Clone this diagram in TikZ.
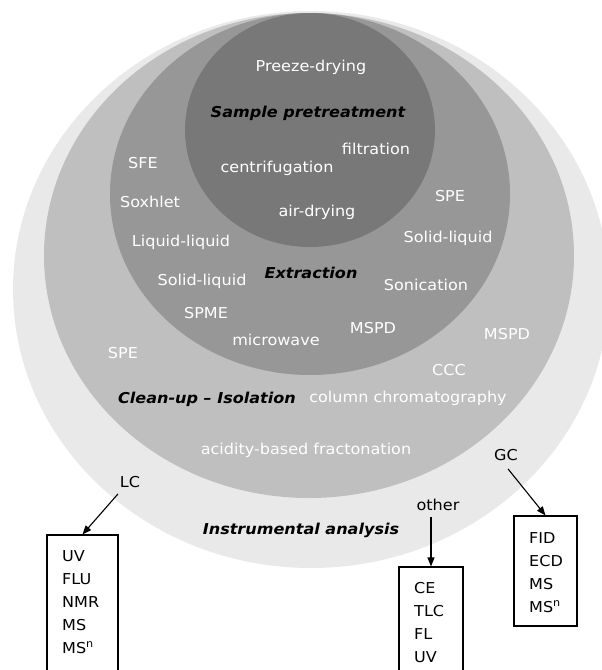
\documentclass[tikz,border=0pt]{standalone}
\usepackage{fontspec}
\setmainfont{DejaVu Sans}[FakeStretch=1.07]
\usetikzlibrary{arrows.meta,fit}
\definecolor{ringA}{HTML}{E9E9E9}
\definecolor{ringB}{HTML}{BFBFBF}
\definecolor{ringC}{HTML}{979797}
\definecolor{ringD}{HTML}{787878}
\begin{document}
\begin{tikzpicture}[x=1pt,y=-1pt,
  lbl/.style={text=white,font=\fontsize{15}{17}\selectfont,inner sep=0pt},
  ttl/.style={text=black,font=\fontsize{15}{17}\selectfont\bfseries\itshape,inner sep=0pt},
  blk/.style={text=black,font=\fontsize{15}{17}\selectfont,inner sep=0pt},
  listtxt/.style={text=black,font=\fontsize{15}{23}\selectfont,align=left,inner sep=0pt,anchor=north west},
  listbox/.style={draw=black,line width=1.1pt,inner sep=0pt},
  arr/.style={-{Triangle[length=9pt,width=7pt]},line width=1.1pt}]
\useasboundingbox (0,0) rectangle (602,670);
\begin{scope}
\clip (0,0) rectangle (602,670);
\fill[ringA] (311,289.5) ellipse [x radius=298, y radius=278.5];
\fill[ringB] (309,255.5) ellipse [x radius=265, y radius=242.5];
\fill[ringC] (310,194) ellipse [x radius=200, y radius=181];
\fill[ringD] (310,130) ellipse [x radius=125, y radius=117];
\end{scope}
% inner
\node[lbl] (preeze) at (311,67) {Preeze-drying};
\node[ttl] (sample) at (308,113) {Sample pretreatment};
\node[lbl] (filt) at (376,149) {filtration};
\node[lbl] (centr) at (277,168) {centrifugation};
\node[lbl] (air) at (317,212) {air-drying};
% extraction ring
\node[lbl] (sfe) at (143,163) {SFE};
\node[lbl] (soxh) at (150,202) {Soxhlet};
\node[lbl] (spe1) at (450,196) {SPE};
\node[lbl] (liq) at (181,242) {Liquid-liquid};
\node[lbl] (sol1) at (448,238) {Solid-liquid};
\node[ttl] (extr) at (311,273) {Extraction};
\node[lbl] (sol2) at (202,281) {Solid-liquid};
\node[lbl] (soni) at (426,285) {Sonication};
\node[lbl] (spme) at (206,313) {SPME};
\node[lbl] (mspd1) at (373,328) {MSPD};
\node[lbl] (micro) at (276,340) {microwave};
% clean-up ring
\node[lbl] (mspd2) at (507,334) {MSPD};
\node[lbl] (spe2) at (123,353) {SPE};
\node[lbl] (ccc) at (449,370) {CCC};
\node[ttl] (clean) at (207,399) {Clean-up -- Isolation};
\node[lbl] (colch) at (408,398) {column chromatography};
\node[lbl] (acid) at (306,450) {acidity-based fractonation};
% instrumental ring
\node[ttl] (instr) at (301,530) {Instrumental analysis};
\node[blk] (lc) at (130,482) {LC};
\node[blk] (gc) at (506,455) {GC};
\node[blk] (other) at (438,505) {other};
% lists
\node[listtxt] (lclist) at (62,550) {UV\\FLU\\NMR\\MS\\MS\textsuperscript{n}};
\node[listtxt] (otherlist) at (414,582) {CE\\TLC\\FL\\UV};
\node[listtxt] (gclist) at (529,532) {FID\\ECD\\MS\\MS\textsuperscript{n}};
\node[listbox,fit={(47,535) (118,700)}] (lcbox) {};
\node[listbox,fit={(399,567) (463,700)}] (otherbox) {};
\node[listbox,fit={(514,516) (577,626)}] (gcbox) {};
% arrows
\draw[arr] ([xshift=-12pt,yshift=-6pt]lc.south) -- (lcbox.north);
\draw[arr] ([yshift=-6pt]other.south -| otherbox.north) -- (otherbox.north);
\draw[arr] ([xshift=2pt,yshift=-8pt]gc.south) -- (gcbox.north);
\end{tikzpicture}
\end{document}
